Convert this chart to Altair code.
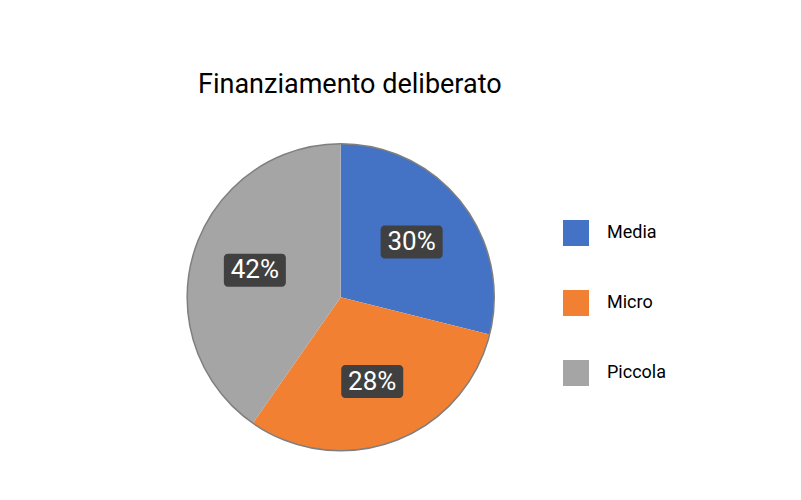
import altair as alt
import pandas as pd

categories = ["Media", "Micro", "Piccola"]
values = [28.9, 30.8, 40.3]
labels = ["30%", "28%", "42%"]
colors = ["#4472C4", "#F28033", "#A5A5A5"]

df = pd.DataFrame({"cat": categories, "val": values, "lab": labels, "ord": [0, 1, 2]})

CX, CY, R, LR = 332.7, 189.3, 153.5, 90
BW, BH = 31, 16.5

base = alt.Chart(df)

pie = base.mark_arc(radius=R, stroke=None).encode(
    theta=alt.Theta("val:Q", stack=True),
    color=alt.Color(
        "cat:N",
        scale=alt.Scale(domain=categories, range=colors),
        legend=alt.Legend(
            title=None, orient="none", legendX=555, legendY=112,
            symbolType="square", symbolSize=676, symbolStrokeWidth=0,
            symbolOpacity=1, labelFont="Roboto", labelFontSize=18,
            labelColor="black", rowPadding=44, labelOffset=18,
        ),
    ),
    order=alt.Order("ord:Q"),
    x=alt.value(CX),
    y=alt.value(CY),
)

ring = alt.Chart(pd.DataFrame({"k": [0]})).mark_arc(
    radius=R, theta=0, theta2=6.2832, filled=False, stroke="#7F7F7F", strokeWidth=1.5
).encode(x=alt.value(CX), y=alt.value(CY))

pos = base.transform_window(
    cum="sum(val)", frame=[None, 0], sort=[alt.SortField("ord")]
).transform_joinaggregate(
    total="sum(val)"
).transform_calculate(
    mid="(datum.cum - datum.val/2)/datum.total*2*PI",
).transform_calculate(
    lx=f"{CX} + {LR}*sin(datum.mid)",
    ly=f"{CY} - {LR}*cos(datum.mid)",
).transform_calculate(
    x1=f"datum.lx - {BW}", x2=f"datum.lx + {BW}",
    y1=f"datum.ly - {BH}", y2=f"datum.ly + {BH}",
)

boxes = pos.mark_rect(cornerRadius=4, color="#404040").encode(
    x=alt.X("x1:Q", scale=None, axis=None),
    x2="x2:Q",
    y=alt.Y("y1:Q", scale=None, axis=None),
    y2="y2:Q",
)

texts = pos.mark_text(
    font="Roboto", fontSize=26, color="white", align="center", baseline="middle"
).encode(
    x=alt.X("lx:Q", scale=None, axis=None),
    y=alt.Y("ly:Q", scale=None, axis=None),
    text="lab:N",
)

chart = alt.layer(pie, ring, boxes, texts).properties(
    width=785,
    height=384,
    padding={"top": 100, "left": 0, "right": 0, "bottom": 0},
    autosize=alt.AutoSizeParams(type="none"),
    background="white",
    title=alt.TitleParams(
        "Finanziamento deliberato", font="Roboto", fontSize=27, fontWeight="normal",
        color="black", anchor="start", frame="group", dx=190, offset=13, dy=25,
        baseline="alphabetic",
    ),
).configure_view(stroke=None)

chart.save("out.html", embed_options={"renderer": "svg", "actions": False})
